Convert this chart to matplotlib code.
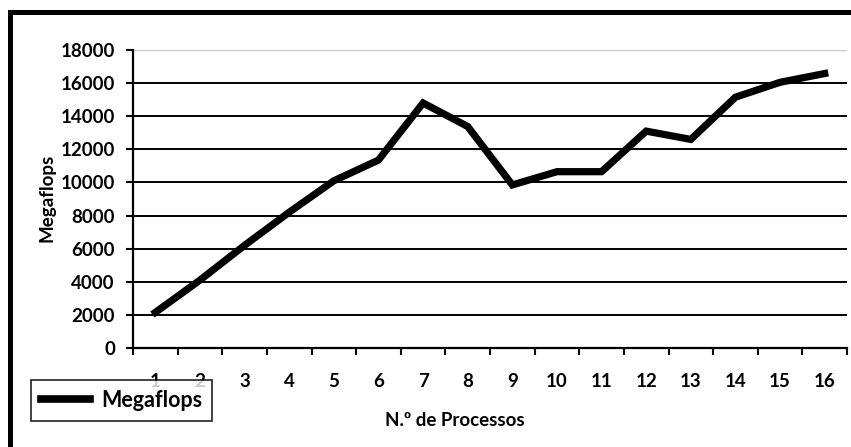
import matplotlib.pyplot as plt
from matplotlib.patches import Rectangle

processos = list(range(1, 17))
megaflops = [2150, 4100, 6200, 8200, 10100, 11350, 14800, 13380,
             9850, 10650, 10650, 13100, 12600, 15150, 16050, 16580]
y_ticks = list(range(0, 18001, 2000))

plt.rcParams['font.family'] = ['Lato', 'DejaVu Sans']
plt.rcParams['font.weight'] = 'bold'

fig = plt.figure(figsize=(8.51, 4.47), dpi=100)
ax = fig.add_axes([0.1563, 0.2215, 0.8390, 0.6666])

# outer chart border (cut off at right/bottom like the original)
fig.patches.append(Rectangle((0.0123, -0.05), 1.2, 1.024, transform=fig.transFigure,
                             fill=False, edgecolor='black', linewidth=3.6))

ax.plot(processos, megaflops, color='black', linewidth=5.2, solid_joinstyle='miter',
        label='Megaflops', zorder=3)

ax.set_xlim(0.5, 16.5)
ax.set_ylim(0, 18000)
ax.set_yticks(y_ticks)
ax.set_yticklabels([str(v) for v in y_ticks], fontsize=13.5, fontweight='bold')
ax.set_xticks([i + 0.5 for i in range(0, 17)])
ax.set_xticklabels([])
ax.set_xticks(processos, minor=True)
ax.set_xticklabels([str(p) for p in processos], minor=True, fontsize=13.5, fontweight='bold')
ax.tick_params(axis='x', which='minor', length=0, pad=18)
ax.tick_params(axis='x', which='major', direction='out', length=5, width=1.5)
ax.tick_params(axis='y', direction='out', length=5, width=1.5, pad=8)

for v in y_ticks[1:-1]:
    ax.axhline(v, color='black', linewidth=1.4, zorder=1)

for side in ['top', 'right']:
    ax.spines[side].set_visible(False)
ax.axhline(18000, color='#c8c8c8', linewidth=1.0, zorder=1)
ax.spines['left'].set_linewidth(1.6)
ax.spines['bottom'].set_linewidth(1.6)

fig.text(0.055, 0.557, 'Megaflops', fontsize=13.5, fontweight='bold', rotation=90,
         ha='center', va='center')
fig.text(0.535, 0.06, 'N.º de Processos', fontsize=13.5, fontweight='bold',
         ha='center', va='center')

leg = fig.legend(loc='lower left', bbox_to_anchor=(0.024, 0.035), fontsize=15.5,
                 frameon=True, fancybox=False, edgecolor='black', handlelength=2.3,
                 borderpad=0.45, handletextpad=0.5)
leg.get_frame().set_linewidth(1.3)
leg.get_lines()[0].set_linewidth(5.5)

fig.savefig('out.png', dpi=100)
